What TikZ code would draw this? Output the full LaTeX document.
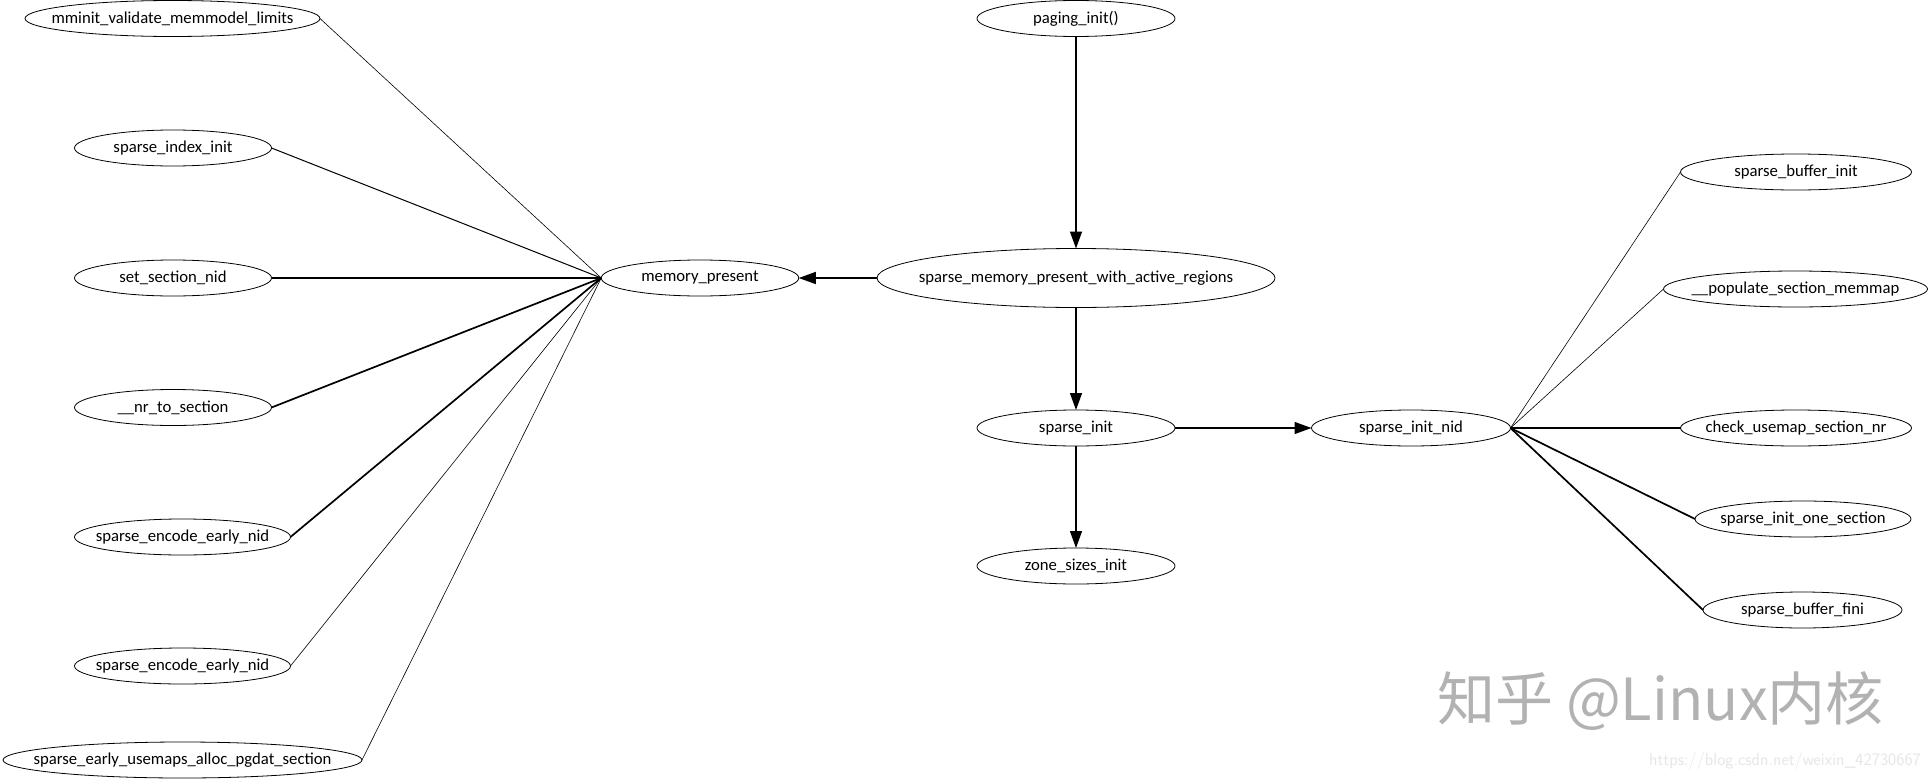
\documentclass[tikz,border=0pt]{standalone}
\usepackage{fontspec}
\setmainfont{Carlito}
\newfontfamily\cjk{Noto Sans CJK SC}
\usetikzlibrary{arrows.meta}
\usetikzlibrary{shapes}
\definecolor{markgray}{HTML}{B2B2B2}
\definecolor{urlgray}{HTML}{E6E6E6}
\newcommand{\fn}[1]{\makebox[0pt]{\raisebox{-2.4pt}{#1}}}
\tikzset{
 func/.style={ellipse,draw,inner sep=0,outer sep=0,minimum height=36pt,line width=.8pt,font=\fontsize{16.7}{16.7}\selectfont},
 thinline/.style={line width=.6pt},
 midline/.style={line width=1pt},
 fatline/.style={line width=1.7pt},
 call/.style={line width=1.4pt,-{Triangle[length=17pt,width=12pt]}}
}
\begin{document}
\begin{tikzpicture}[x=1pt,y=-1pt]
 \useasboundingbox (0,0) rectangle (1930,779);
 % callers of memory_present
 \node[func,minimum width=295pt] (limits) at (172.5,18.5) {\fn{mminit\_validate\_memmodel\_limits}};
 \node[func,minimum width=197pt] (index) at (173,148) {\fn{sparse\_index\_init}};
 \node[func,minimum width=197pt] (nid) at (173,278) {\fn{set\_section\_nid}};
 \node[func,minimum width=197pt] (nrsec) at (173,407.5) {\fn{\_\_nr\_to\_section}};
 \node[func,minimum width=216pt] (encodea) at (182.5,537) {\fn{sparse\_encode\_early\_nid}};
 \node[func,minimum width=216pt] (encodeb) at (182.5,666) {\fn{sparse\_encode\_early\_nid}};
 \node[func,minimum width=359pt] (usemaps) at (182.5,760) {\fn{sparse\_early\_usemaps\_alloc\_pgdat\_section}};
 \node[func,minimum width=197.5pt] (present) at (700,278) {\fn{memory\_present}};
 % middle column
 \node[func,minimum width=198pt] (paging) at (1076,18.5) {\fn{paging\_init()}};
 \node[func,minimum width=398pt,minimum height=59pt] (regions) at (1076,278) {\fn{sparse\_memory\_present\_with\_active\_regions}};
 \node[func,minimum width=198pt] (init) at (1076,428) {\fn{sparse\_init}};
 \node[func,minimum width=198pt] (zones) at (1076,566) {\fn{zone\_sizes\_init}};
 % right side
 \node[func,minimum width=199pt] (initnid) at (1411,428) {\fn{sparse\_init\_nid}};
 \node[func,minimum width=231pt] (bufinit) at (1796,172) {\fn{sparse\_buffer\_init}};
 \node[func,minimum width=264pt] (memmap) at (1795.5,289) {\fn{\_\_populate\_section\_memmap}};
 \node[func,minimum width=231pt] (usemap) at (1796,428) {\fn{check\_usemap\_section\_nr}};
 \node[func,minimum width=216pt] (onesec) at (1803,519) {\fn{sparse\_init\_one\_section}};
 \node[func,minimum width=199pt] (buffini) at (1802.5,610) {\fn{sparse\_buffer\_fini}};

 \draw[thinline] (limits.east) -- (present.west);
 \draw[midline] (index.east) -- (present.west);
 \draw[fatline] (nid.east) -- (present.west);
 \draw[fatline] (nrsec.east) -- (present.west);
 \draw[fatline] (encodea.east) -- (present.west);
 \draw[thinline] (encodeb.east) -- (present.west);
 \draw[thinline] (usemaps.east) -- (present.west);

 \draw[call] (paging.south) -- (regions.north);
 \draw[call] (regions.west) -- (present.east);
 \draw[call] (regions.south) -- (init.north);
 \draw[call] (init.east) -- (initnid.west);
 \draw[call] (init.south) -- (zones.north);

 \draw[thinline] (initnid.east) -- (bufinit.west);
 \draw[thinline] (initnid.east) -- (memmap.west);
 \draw[fatline] (initnid.east) -- (usemap.west);
 \draw[fatline] (initnid.east) -- (onesec.west);
 \draw[fatline] (initnid.east) -- (buffini.west);

 \node[text=markgray,font=\cjk\fontsize{58}{58}\selectfont,anchor=center,inner sep=0] (mark) at (1660.5,701) {知乎 @Linux内核};
 \node[text=urlgray,font=\sffamily\fontsize{17.4}{17.4}\selectfont,anchor=center,inner sep=0] (url) at (1785,761) {https://blog.csdn.net/weixin\_42730667};
\end{tikzpicture}
\end{document}
